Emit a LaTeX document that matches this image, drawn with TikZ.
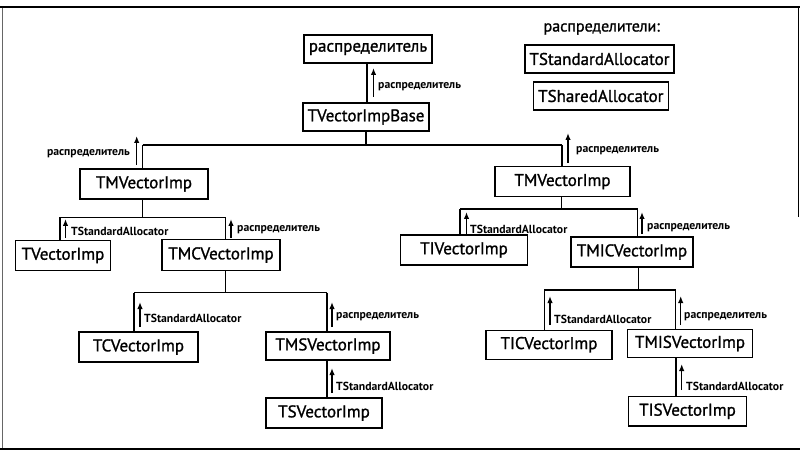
\documentclass[tikz,border=0pt]{standalone}
\usepackage{fontspec}
\setmainfont{PT Sans}
\newfontfamily\boxfont{PT Sans}[FakeBold=1.2]
\usetikzlibrary{arrows.meta}
\tikzset{
  cls/.style={draw, line width=1.4pt, inner sep=0pt, font=\boxfont\fontsize{17}{19}\selectfont},
  lbl/.style={anchor=west, inner sep=0pt, font=\bfseries\fontsize{11.7}{13}\selectfont},
  lblr/.style={anchor=east, inner sep=0pt, font=\bfseries\fontsize{11.7}{13}\selectfont},
  con/.style={line width=1.4pt},
  arr/.style={line width=1.5pt, -{Latex[length=7pt,width=5.5pt]}},
  frm/.style={line width=1.6pt}
}
\begin{document}
\begin{tikzpicture}[x=1pt,y=-1pt]
\useasboundingbox (0,0) rectangle (800,462);
% frame
\draw[frm] (0,7) -- (800,7);
\draw[frm] (0,449) -- (800,449);
\draw[line width=0.6pt, black!60] (2,8) -- (2,448);
\draw[line width=1pt] (798.5,7) -- (798.5,217);

% nodes
\node[cls, minimum width=128, minimum height=28] (dist) at (368,49) {распределитель};
\node[cls, minimum width=126, minimum height=28] (base) at (366,117) {TVectorImpBase};
\node[cls, minimum width=128, minimum height=30] (lm) at (144,184) {TMVectorImp};
\node[cls, minimum width=95, minimum height=30] (tv) at (63,255.5) {TVectorImp};
\node[cls, minimum width=118, minimum height=31] (tmc) at (221,255) {TMCVectorImp};
\node[cls, minimum width=119, minimum height=30] (tc) at (138.5,347) {TCVectorImp};
\node[cls, minimum width=124, minimum height=28] (tms) at (328,346) {TMSVectorImp};
\node[cls, minimum width=116, minimum height=30] (ts) at (324,413) {TSVectorImp};
\node[cls, minimum width=135, minimum height=30] (rm) at (562.5,181.7) {TMVectorImp};
\node[cls, minimum width=127, minimum height=30] (ti) at (464,250) {TIVectorImp};
\node[cls, minimum width=122, minimum height=30] (tmic) at (632,252) {TMICVectorImp};
\node[cls, minimum width=126, minimum height=29] (tic) at (549,344.7) {TICVectorImp};
\node[cls, minimum width=124.6, minimum height=28.4] (tmis) at (690,343.5) {TMISVectorImp};
\node[cls, minimum width=118, minimum height=29.5] (tis) at (687.5,411.3) {TISVectorImp};

% legend
\node[inner sep=0pt, font=\boxfont\fontsize{16}{18}\selectfont] (legt) at (601.7,29) {распределители:};
\node[cls, minimum width=149, minimum height=28] (tsa) at (599.5,59) {TStandardAllocator};
\node[cls, minimum width=135, minimum height=28] (tsh) at (600.8,96) {TSharedAllocator};

% connectors
\draw[con] (dist.south -| 367,0) -- (base.north -| 367,0);
\coordinate (b1L) at (142.7,145);
\coordinate (b1R) at (562,145);
\draw[con] (base.south) -- (base.south |- b1L);
\draw[con] (b1L) -- (b1R);
\draw[con] (b1L) -- (b1L |- lm.north);
\draw[con] (b1R) -- (b1R |- rm.north);

\coordinate (b2L) at (60,217.5);
\coordinate (b2R) at (225.7,217.5);
\draw[con] (lm.south -| 142.7,0) -- (142.7,217.5);
\draw[con] (b2L) -- (b2R);
\draw[con] (b2L) -- (b2L |- tv.north);
\draw[con] (b2R) -- (b2R |- tmc.north);

\coordinate (b3L) at (134,292.7);
\coordinate (b3R) at (327,292.7);
\draw[con] (tmc.south -| 225.7,0) -- (225.7,292.7);
\draw[con] (b3L) -- (b3R);
\draw[con] (b3L) -- (b3L |- tc.north);
\draw[con] (b3R) -- (b3R |- tms.north);
\draw[con] (tms.south -| 327,0) -- (ts.north -| 327,0);

\coordinate (b4L) at (460,209);
\coordinate (b4R) at (637.7,209);
\draw[con] (rm.south -| 561.7,0) -- (561.7,209);
\draw[con] (b4L) -- (b4R);
\draw[con] (b4L) -- (b4L |- ti.north);
\draw[con] (b4R) -- (b4R |- tmic.north);

\coordinate (b5L) at (544.3,290);
\coordinate (b5R) at (675.7,290);
\draw[con] (tmic.south -| 638.3,0) -- (638.3,290);
\draw[con] (b5L) -- (b5R);
\draw[con] (b5L) -- (b5L |- tic.north);
\draw[con] (b5R) -- (b5R |- tmis.north);
\draw[con] (tmis.south -| 676,0) -- (tis.north -| 676,0);

% arrows with labels
\draw[arr] (373.5,97) -- (373.5,68);
\node[lbl] (a1) at (378,87) {распределитель};

\draw[arr] (136.7,165) -- (136.7,136);
\node[lblr] (a2) at (130,154) {распределитель};

\draw[arr] (568,163) -- (568,133);
\node[lbl] (a3) at (576,151) {распределитель};

\draw[arr] (65.5,238) -- (65.5,219);
\node[lbl] (a4) at (71,231) {TStandardAllocator};

\draw[arr] (231,238) -- (231,219);
\node[lbl] (a5) at (237,230) {распределитель};

\draw[arr] (140,327) -- (140,302);
\node[lbl] (a6) at (144,318) {TStandardAllocator};

\draw[arr] (332,327) -- (332,302);
\node[lbl] (a7) at (336,317) {распределитель};

\draw[arr] (332,393) -- (332,368);
\node[lbl] (a8) at (336,386) {TStandardAllocator};

\draw[arr] (466.5,234) -- (466.5,212);
\node[lbl] (a9) at (470,229) {TStandardAllocator};

\draw[arr] (642,234) -- (642,212);
\node[lbl] (a10) at (647,228) {распределитель};

\draw[arr] (550,325) -- (550,296);
\node[lbl] (a11) at (554,319.3) {TStandardAllocator};

\draw[arr] (680.7,325) -- (680.7,296);
\node[lbl] (a12) at (684,316.7) {распределитель};

\draw[arr] (681.7,390) -- (681.7,364);
\node[lbl] (a13) at (686,386) {TStandardAllocator};
\end{tikzpicture}
\end{document}
